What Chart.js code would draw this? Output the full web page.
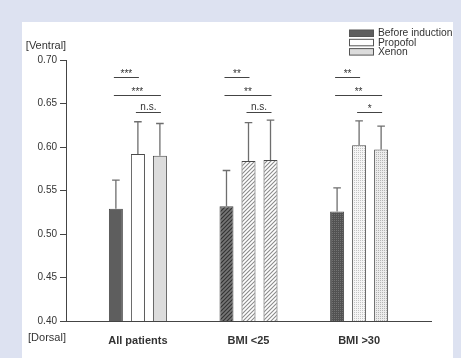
<!DOCTYPE html>
<html>
<head>
<meta charset="utf-8">
<script src="https://cdn.jsdelivr.net/npm/chart.js@4.4.1/dist/chart.umd.min.js"></script>
<style>
  html, body { margin: 0; padding: 0; background: #dde2f1; }
  #wrap { width: 461px; height: 358px; }
</style>
</head>
<body>
<div id="wrap"><canvas id="c" width="461" height="358"></canvas></div>
<script>
// Ventral/dorsal ratio by patient group
const groups = ['All patients', 'BMI <25', 'BMI >30'];
const seriesNames = ['Before induction', 'Propofol', 'Xenon'];
const beforeInduction = [0.529, 0.532, 0.526];
const propofol = [0.592, 0.584, 0.602];
const xenon = [0.590, 0.585, 0.597];
// upper ends of the error bars (mean + SD)
const beforeUpper = [0.562, 0.573, 0.553];
const propofolUpper = [0.629, 0.628, 0.630];
const xenonUpper = [0.627, 0.631, 0.624];
const yTicks = [0.40, 0.45, 0.50, 0.55, 0.60, 0.65, 0.70];
// significance brackets: series pairs, bracket heights, labels per group
const sigPairs = [[0, 1], [0, 2], [1, 2]];
const sigLevels = [0.680, 0.660, 0.640];
const sigLabels = [['***', '***', 'n.s.'], ['**', '**', 'n.s.'], ['**', '**', '*']];

const FONT = "'Liberation Sans', Arial, Helvetica, sans-serif";
const TXT = '#333333';

function makePattern(size, bg, paint) {
  const cv = document.createElement('canvas');
  cv.width = size; cv.height = size;
  const g = cv.getContext('2d');
  g.fillStyle = bg;
  g.fillRect(0, 0, size, size);
  paint(g, size);
  return document.getElementById('c').getContext('2d').createPattern(cv, 'repeat');
}
function hatch(bg, fg) {
  return makePattern(4, bg, (g, s) => {
    g.strokeStyle = fg; g.lineWidth = 1.1;
    g.beginPath();
    g.moveTo(-1, s + 1); g.lineTo(s + 1, -1);
    g.moveTo(-1, 1); g.lineTo(1, -1);
    g.moveTo(s - 1, s + 1); g.lineTo(s + 1, s - 1);
    g.stroke();
  });
}
function dots(bg, fg) {
  return makePattern(2, bg, (g) => {
    g.fillStyle = fg;
    g.fillRect(0, 0, 1, 1);
  });
}

const fills = [
  ['#5e5e5e', hatch('#767676', '#333333'), dots('#525252', '#727272')],
  ['#ffffff', hatch('#ffffff', '#8a8a8a'), dots('#f6f6f6', '#c4c4c4')],
  ['#dcdcdc', hatch('#ffffff', '#8a8a8a'), dots('#ececec', '#b4b4b4')]
];
const legendFills = ['#5e5e5e', '#ffffff', '#dcdcdc'];
const seriesValues = [beforeInduction, propofol, xenon];
const seriesUpper = [beforeUpper, propofolUpper, xenonUpper];

const framePlugin = {
  id: 'frame',
  beforeDraw(chart) {
    const ctx = chart.ctx;
    ctx.save();
    ctx.fillStyle = '#dde2f1';
    ctx.fillRect(0, 0, chart.width, chart.height);
    ctx.fillStyle = '#ffffff';
    ctx.fillRect(22, 22, 431, chart.height - 22);
    ctx.restore();
  }
};

const errorBarPlugin = {
  id: 'errorBars',
  afterDatasetsDraw(chart) {
    const ctx = chart.ctx;
    const ys = chart.scales.y;
    ctx.save();
    ctx.strokeStyle = '#6e6e6e';
    ctx.lineWidth = 1.3;
    seriesUpper.forEach((upper, i) => {
      const meta = chart.getDatasetMeta(i);
      meta.data.forEach((bar, j) => {
        const yTop = ys.getPixelForValue(upper[j]);
        ctx.beginPath();
        ctx.moveTo(bar.x, bar.y);
        ctx.lineTo(bar.x, yTop);
        ctx.moveTo(bar.x - 3.8, yTop);
        ctx.lineTo(bar.x + 3.8, yTop);
        ctx.stroke();
      });
    });
    ctx.restore();
  }
};

const annotationPlugin = {
  id: 'annotations',
  afterDraw(chart) {
    const ctx = chart.ctx;
    const ys = chart.scales.y;
    ctx.save();
    // significance brackets
    ctx.strokeStyle = '#444444';
    ctx.lineWidth = 1;
    ctx.fillStyle = TXT;
    ctx.font = '10px ' + FONT;
    ctx.textAlign = 'center';
    ctx.textBaseline = 'alphabetic';
    groups.forEach((g, gi) => {
      sigPairs.forEach((pair, k) => {
        const xa = chart.getDatasetMeta(pair[0]).data[gi].x - 2;
        const xb = chart.getDatasetMeta(pair[1]).data[gi].x + 1;
        const y = Math.round(ys.getPixelForValue(sigLevels[k])) + 0.5;
        ctx.beginPath();
        ctx.moveTo(xa, y);
        ctx.lineTo(xb, y);
        ctx.stroke();
        const lbl = sigLabels[gi][k];
        ctx.fillText(lbl, (xa + xb) / 2, y - (lbl === 'n.s.' ? 2.5 : 0.5));
      });
    });
    // axis end labels
    ctx.font = '11px ' + FONT;
    ctx.textBaseline = 'middle';
    ctx.fillText('[Ventral]', 46, 46);
    ctx.fillText('[Dorsal]', 47, 338);
    // legend
    ctx.font = '10.3px ' + FONT;
    ctx.textAlign = 'left';
    seriesNames.forEach((name, i) => {
      const top = 30 + i * 9.3;
      ctx.fillStyle = legendFills[i];
      ctx.fillRect(349.5, top, 24, 6.5);
      ctx.strokeStyle = '#555555';
      ctx.strokeRect(349.5, top, 24, 6.5);
      ctx.fillStyle = TXT;
      ctx.fillText(name, 378, top + 3.6);
    });
    ctx.restore();
  }
};

new Chart(document.getElementById('c'), {
  type: 'bar',
  data: {
    datasets: seriesNames.map((name, i) => ({
      label: name,
      data: groups.map((g, j) => ({ x: j + 1, y: seriesValues[i][j] })),
      backgroundColor: fills[i],
      borderColor: '#4a4a4a',
      borderWidth: 1,
      categoryPercentage: 0.597,
      barPercentage: 0.636
    }))
  },
  options: {
    responsive: false,
    animation: false,
    devicePixelRatio: 1,
    layout: { padding: { top: 60, right: 30, left: 0, bottom: 0 } },
    plugins: { legend: { display: false }, tooltip: { enabled: false } },
    scales: {
      x: {
        type: 'linear',
        min: 0.35,
        max: 3.65,
        offset: false,
        afterBuildTicks(scale) { scale.ticks = groups.map((g, i) => ({ value: i + 1 })); },
        afterFit(scale) { scale.height = 37; },
        ticks: {
          callback: (v) => groups[v - 1],
          font: { family: FONT, size: 11, weight: 'bold' },
          color: TXT,
          padding: 5,
          maxRotation: 0,
          autoSkip: false
        },
        grid: { display: false, offset: false },
        border: { display: true, color: '#444444', width: 1 }
      },
      y: {
        min: 0.40,
        max: 0.70,
        beginAtZero: false,
        afterBuildTicks(scale) { scale.ticks = yTicks.map(v => ({ value: v })); },
        afterFit(scale) { scale.width = 66; },
        ticks: {
          callback: (v) => v.toFixed(2),
          font: { family: FONT, size: 10 },
          color: TXT,
          padding: 3
        },
        grid: { display: true, drawOnChartArea: false, drawTicks: true, tickLength: 6, color: '#444444' },
        border: { display: true, color: '#444444', width: 1 }
      }
    }
  },
  plugins: [framePlugin, errorBarPlugin, annotationPlugin]
});
</script>
</body>
</html>
